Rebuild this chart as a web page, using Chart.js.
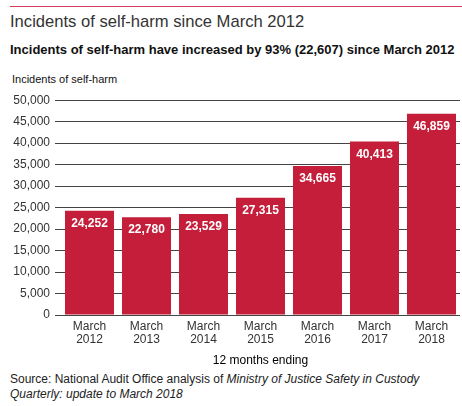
<!DOCTYPE html>
<html>
<head>
<meta charset="utf-8">
<script src="https://cdn.jsdelivr.net/npm/chart.js"></script>
<style>
  html,body{margin:0;padding:0;background:#fff;}
  body{width:462px;height:406px;position:relative;overflow:hidden;font-family:"Liberation Sans",Arial,sans-serif;}
  .abs{position:absolute;white-space:nowrap;}
  #rule{left:10px;top:6px;width:452px;height:1px;background:#d83a5c;}
  #title{left:10px;top:13px;font-size:16.6px;line-height:18px;color:#333;}
  #subtitle{left:10px;top:43px;font-size:13px;line-height:14px;font-weight:bold;color:#111;}
  #ylabel{left:12px;top:73px;font-size:11px;line-height:12px;color:#111;}
  #source{left:10px;top:372px;font-size:12px;line-height:15px;color:#222;}
  #wrap{position:absolute;left:0;top:88px;width:462px;height:282px;}
</style>
</head>
<body>
<div class="abs" id="rule"></div>
<div class="abs" id="title">Incidents of self-harm since March 2012</div>
<div class="abs" id="subtitle">Incidents of self-harm have increased by 93% (22,607) since March 2012</div>
<div class="abs" id="ylabel">Incidents of self-harm</div>
<div id="wrap"><canvas id="chart"></canvas></div>
<div class="abs" id="source">Source: National Audit Office analysis of <i>Ministry of Justice Safety in Custody</i><br><i>Quarterly: update to March 2018</i></div>
<script>
const years = ["2012","2013","2014","2015","2016","2017","2018"];
const incidents = [24252,22780,23529,27315,34665,40413,46859];
const yTicks = [0,5000,10000,15000,20000,25000,30000,35000,40000,45000,50000];

const fmt = v => v.toLocaleString("en-US");

const barLabels = {
  id:"barLabels",
  afterDatasetsDraw(chart){
    const ctx = chart.ctx;
    ctx.save();
    ctx.fillStyle = "#fff";
    ctx.font = "bold 12px 'Liberation Sans', Arial, sans-serif";
    ctx.textAlign = "center";
    ctx.textBaseline = "middle";
    chart.getDatasetMeta(0).data.forEach((bar,i)=>{
      ctx.fillText(fmt(incidents[i]), bar.x, bar.y + 13);
    });
    ctx.restore();
  }
};

new Chart(document.getElementById("chart"),{
  type:"bar",
  data:{
    labels: years.map(y=>["March",y]),
    datasets:[{data:incidents,backgroundColor:"#c41e3a",borderWidth:0,
      categoryPercentage:1,barPercentage:0.86}]
  },
  options:{
    responsive:true,
    maintainAspectRatio:false,
    animation:false,
    layout:{padding:{top:11,right:2,left:0,bottom:0}},
    plugins:{legend:{display:false},tooltip:{enabled:false}},
    scales:{
      x:{
        grid:{display:false,drawTicks:false},
        border:{display:false},
        ticks:{color:"#333",padding:5,font:{family:"'Liberation Sans', Arial",size:12,lineHeight:1.1}},
        title:{display:true,text:"12 months ending",color:"#000",
          font:{family:"'Liberation Sans', Arial",size:12},padding:{top:2,bottom:2}},
        afterFit(s){ s.height = 55; }
      },
      y:{
        min:0,max:50000,
        afterBuildTicks(s){ s.ticks = yTicks.map(v=>({value:v})); },
        ticks:{color:"#333",padding:5,font:{family:"'Liberation Sans', Arial",size:12},
          callback:v=>fmt(v)},
        grid:{color:"#444",lineWidth:1,tickLength:6,drawTicks:true},
        border:{display:false},
        afterFit(s){ s.width = 61; }
      }
    }
  },
  plugins:[barLabels]
});
</script>
</body>
</html>
